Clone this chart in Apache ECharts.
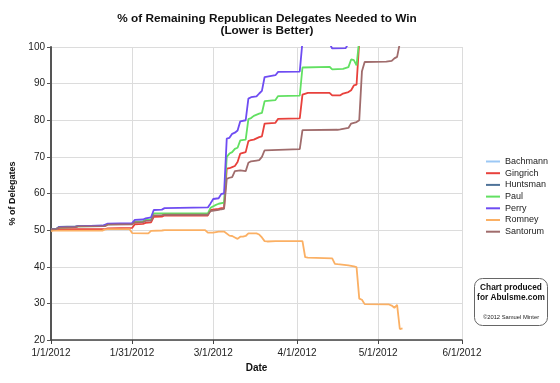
<!DOCTYPE html>
<html>
<head>
<meta charset="utf-8">
<script src="https://cdn.jsdelivr.net/npm/echarts@6/dist/echarts.min.js"></script>
<style>
html,body{margin:0;padding:0;background:#fff;}
#chart{width:560px;height:383px;}
</style>
</head>
<body>
<div id="chart"></div>
<script>
// ---- data ----
var candidates = ['Bachmann','Gingrich','Huntsman','Paul','Perry','Romney','Santorum'];
var tickDates = ['2012-01-01','2012-01-31','2012-03-01','2012-04-01','2012-05-01','2012-06-01'];
var tickLabels = ['1/1/2012','1/31/2012','3/1/2012','4/1/2012','5/1/2012','6/1/2012'];
var yTicks = [20,30,40,50,60,70,80,90,100];

var bachmann = [['2012-01-01',50.2],['2012-01-04',50.3]];
var huntsman = [['2012-01-01',50.3],['2012-01-03',50.4],['2012-01-04',50.9],['2012-01-10',51.0],['2012-01-11',51.1],['2012-01-20',51.2]];
var gingrich = [['2012-01-01',50.2],['2012-01-03',50.3],['2012-01-21',50.3],['2012-01-22',50.5],['2012-01-31',50.6],['2012-02-01',51.6],['2012-02-04',51.7],['2012-02-05',52.0],['2012-02-07',52.1],['2012-02-08',53.6],['2012-02-11',53.7],['2012-02-12',54.0],['2012-02-28',54.0],['2012-02-29',55.5],['2012-03-03',55.8],['2012-03-04',56.0],['2012-03-05',56.1],['2012-03-06',66.8],['2012-03-07',66.9],['2012-03-08',67.2],['2012-03-09',67.5],['2012-03-10',68.6],['2012-03-11',70.9],['2012-03-13',71.3],['2012-03-14',74.3],['2012-03-15',74.6],['2012-03-16',74.7],['2012-03-18',75.4],['2012-03-19',75.6],['2012-03-20',79.1],['2012-03-24',79.3],['2012-03-25',80.4],['2012-04-02',80.5],['2012-04-03',87.0],['2012-04-05',87.5],['2012-04-13',87.5],['2012-04-14',86.8],['2012-04-17',86.8],['2012-04-18',87.3],['2012-04-20',87.7],['2012-04-21',88.2],['2012-04-22',89.5],['2012-04-23',89.7],['2012-04-24',101.5],['2012-05-15',104]];
var paul = [['2012-01-01',50.2],['2012-01-03',50.3],['2012-01-04',50.7],['2012-01-10',50.8],['2012-01-11',51.0],['2012-01-20',51.1],['2012-01-22',51.6],['2012-01-31',51.7],['2012-02-01',52.3],['2012-02-04',52.4],['2012-02-05',52.8],['2012-02-07',52.9],['2012-02-08',54.6],['2012-02-28',54.6],['2012-02-29',56.1],['2012-03-02',56.9],['2012-03-03',57.2],['2012-03-05',57.5],['2012-03-06',70.0],['2012-03-07',70.9],['2012-03-08',71.3],['2012-03-09',72.2],['2012-03-10',72.5],['2012-03-11',74.5],['2012-03-13',74.7],['2012-03-14',80.3],['2012-03-15',80.6],['2012-03-16',81.2],['2012-03-18',81.8],['2012-03-19',82.0],['2012-03-20',85.2],['2012-03-24',85.5],['2012-03-25',86.6],['2012-04-02',86.7],['2012-04-03',94.4],['2012-04-13',94.6],['2012-04-14',93.9],['2012-04-18',94.0],['2012-04-20',94.5],['2012-04-21',96.6],['2012-04-22',96.4],['2012-04-23',95.0],['2012-04-24',102],['2012-05-15',104]];
var perry = [['2012-01-01',50.2],['2012-01-03',50.3],['2012-01-04',50.8],['2012-01-10',50.9],['2012-01-11',51.1],['2012-01-20',51.2],['2012-01-22',51.8],['2012-01-31',51.9],['2012-02-01',52.8],['2012-02-04',52.9],['2012-02-05',53.2],['2012-02-07',53.5],['2012-02-08',55.5],['2012-02-11',55.6],['2012-02-12',56.0],['2012-02-28',56.2],['2012-02-29',57.3],['2012-03-01',58.5],['2012-03-03',58.7],['2012-03-04',59.9],['2012-03-05',60.0],['2012-03-06',75.0],['2012-03-07',75.2],['2012-03-08',76.3],['2012-03-09',76.6],['2012-03-10',77.2],['2012-03-11',79.7],['2012-03-13',80.0],['2012-03-14',85.9],['2012-03-15',86.3],['2012-03-17',86.5],['2012-03-18',87.3],['2012-03-19',88.0],['2012-03-20',91.8],['2012-03-24',92.3],['2012-03-25',93.2],['2012-04-02',93.3],['2012-04-03',101.5],['2012-04-13',101],['2012-04-14',99.6],['2012-04-19',99.7],['2012-04-20',101],['2012-05-15',103]];
var romney = [['2012-01-01',49.7],['2012-01-02',49.85],['2012-01-20',49.85],['2012-01-21',50.2],['2012-01-22',50.3],['2012-01-30',50.3],['2012-01-31',49.2],['2012-02-06',49.1],['2012-02-07',49.8],['2012-02-11',49.9],['2012-02-12',50.0],['2012-02-27',50.0],['2012-02-28',49.3],['2012-03-01',49.3],['2012-03-03',49.6],['2012-03-05',49.6],['2012-03-07',48.5],['2012-03-08',48.4],['2012-03-09',48.0],['2012-03-10',47.6],['2012-03-11',48.2],['2012-03-12',48.2],['2012-03-13',48.4],['2012-03-14',49.1],['2012-03-17',49.1],['2012-03-18',48.8],['2012-03-19',48.0],['2012-03-20',47.0],['2012-03-21',46.9],['2012-03-24',47.0],['2012-04-03',47.0],['2012-04-04',42.6],['2012-04-05',42.5],['2012-04-14',42.3],['2012-04-15',40.8],['2012-04-16',40.7],['2012-04-20',40.4],['2012-04-22',40.1],['2012-04-23',39.9],['2012-04-24',31.3],['2012-04-25',31.0],['2012-04-26',29.8],['2012-05-05',29.7],['2012-05-06',29.4],['2012-05-07',28.8],['2012-05-08',29.6],['2012-05-09',23.0],['2012-05-10',23.2]];
var santorum = [['2012-01-01',50.2],['2012-01-03',50.3],['2012-01-04',50.7],['2012-01-10',50.8],['2012-01-11',51.0],['2012-01-21',51.1],['2012-01-22',51.5],['2012-01-31',51.6],['2012-02-01',52.1],['2012-02-04',52.2],['2012-02-05',52.5],['2012-02-07',52.6],['2012-02-08',54.0],['2012-02-11',54.1],['2012-02-12',54.2],['2012-02-28',54.2],['2012-02-29',55.2],['2012-03-03',55.5],['2012-03-04',55.7],['2012-03-05',55.8],['2012-03-06',64.0],['2012-03-07',64.3],['2012-03-08',64.5],['2012-03-09',66.1],['2012-03-11',66.3],['2012-03-13',66.1],['2012-03-14',68.4],['2012-03-15',68.8],['2012-03-17',69.0],['2012-03-18',69.1],['2012-03-19',70.0],['2012-03-20',71.8],['2012-04-02',72.1],['2012-04-03',77.3],['2012-04-16',77.4],['2012-04-17',77.5],['2012-04-20',77.9],['2012-04-21',79.1],['2012-04-23',79.5],['2012-04-24',80.0],['2012-04-25',93.4],['2012-04-26',95.9],['2012-05-04',96.0],['2012-05-06',96.2],['2012-05-07',96.9],['2012-05-08',97.3],['2012-05-09',101],['2012-05-15',103]];

var seriesData = [bachmann, gingrich, huntsman, paul, perry, romney, santorum];
var colors = ['#9cc8f5','#e8413c','#4f7399','#62e062','#6e4cf2','#fbb064','#a06c6c'];

// day index since 1/1/2012 (the x axis is a linear day scale)
function dayOf(s){ var p = s.split('-'); return Math.round((Date.UTC(+p[0], +p[1]-1, +p[2]) - Date.UTC(2012,0,1)) / 86400000); }
var tickDays = tickDates.map(dayOf);

var FONT = '"Liberation Sans", Arial, sans-serif';
var chart = echarts.init(document.getElementById('chart'), null, {renderer:'canvas'});
chart.setOption({
  animation: false,
  color: colors,
  textStyle: { fontFamily: FONT },
  title: {
    text: '% of Remaining Republican Delegates Needed to Win\n(Lower is Better)',
    left: 262, top: 7, textAlign: 'center',
    textStyle: { fontSize: 11.8, fontWeight: 'bold', color: '#111', lineHeight: 12.5, fontFamily: FONT }
  },
  grid: { left: 48, right: 98, top: 47, bottom: 43, containLabel: false },
  legend: {
    orient: 'vertical', left: 481, top: 151,
    icon: 'rect', itemWidth: 14, itemHeight: 2, itemGap: 0.7,
    data: candidates,
    textStyle: { fontSize: 9, color: '#222', lineHeight: 11, fontFamily: FONT }
  },
  xAxis: {
    type: 'value',
    min: tickDays[0], max: tickDays[tickDays.length-1],
    name: 'Date', nameLocation: 'middle', nameGap: 20,
    nameTextStyle: { fontWeight: 'bold', fontSize: 10, color: '#111' },
    axisLine: { lineStyle: { color: '#444', width: 1.5 } },
    axisTick: { show: true, customValues: tickDays, length: 4, lineStyle: { color: '#444' } },
    axisLabel: {
      customValues: tickDays, fontSize: 10, color: '#222', margin: 8, hideOverlap: false,
      formatter: function (v) { var i = tickDays.indexOf(Math.round(v)); return i >= 0 ? tickLabels[i] : ''; }
    },
    splitLine: { show: true, lineStyle: { color: '#dcdcdc', width: 1 } }
  },
  yAxis: {
    type: 'value', min: yTicks[0], max: yTicks[yTicks.length-1], interval: 10,
    name: '% of Delegates', nameLocation: 'middle', nameGap: 34, nameRotate: 90,
    nameTextStyle: { fontWeight: 'bold', fontSize: 9, color: '#111' },
    axisLine: { show: true, lineStyle: { color: '#555', width: 2 } },
    axisTick: { show: true, length: 4, lineStyle: { color: '#555' } },
    axisLabel: { fontSize: 10, color: '#222', margin: 6 },
    splitLine: { show: true, lineStyle: { color: '#dcdcdc', width: 1 } }
  },
  graphic: [
    { type: 'rect', left: 474, top: 278, shape: { width: 73, height: 47, r: 8 },
      style: { fill: '#fff', stroke: '#666', lineWidth: 1 } },
    { type: 'text', x: 511, y: 287.5, style: { text: 'Chart produced', fontSize: 8.3, fontWeight: 'bold', fill: '#111', align: 'center', verticalAlign: 'middle', fontFamily: FONT } },
    { type: 'text', x: 511, y: 298, style: { text: 'for Abulsme.com', fontSize: 8.3, fontWeight: 'bold', fill: '#111', align: 'center', verticalAlign: 'middle', fontFamily: FONT } },
    { type: 'text', x: 511, y: 317.5, style: { text: '\u00a92012 Samuel Minter', fontSize: 5.8, fill: '#222', align: 'center', verticalAlign: 'middle', fontFamily: FONT } }
  ],
  series: candidates.map(function (name, i) {
    return {
      name: name, type: 'line',
      data: seriesData[i].map(function (d) { return [dayOf(d[0]), d[1]]; }),
      showSymbol: false, symbol: 'none', clip: true,
      lineStyle: { width: 1.8, color: colors[i] },
      itemStyle: { color: colors[i] },
      emphasis: { disabled: true }
    };
  })
});
</script>
</body>
</html>
